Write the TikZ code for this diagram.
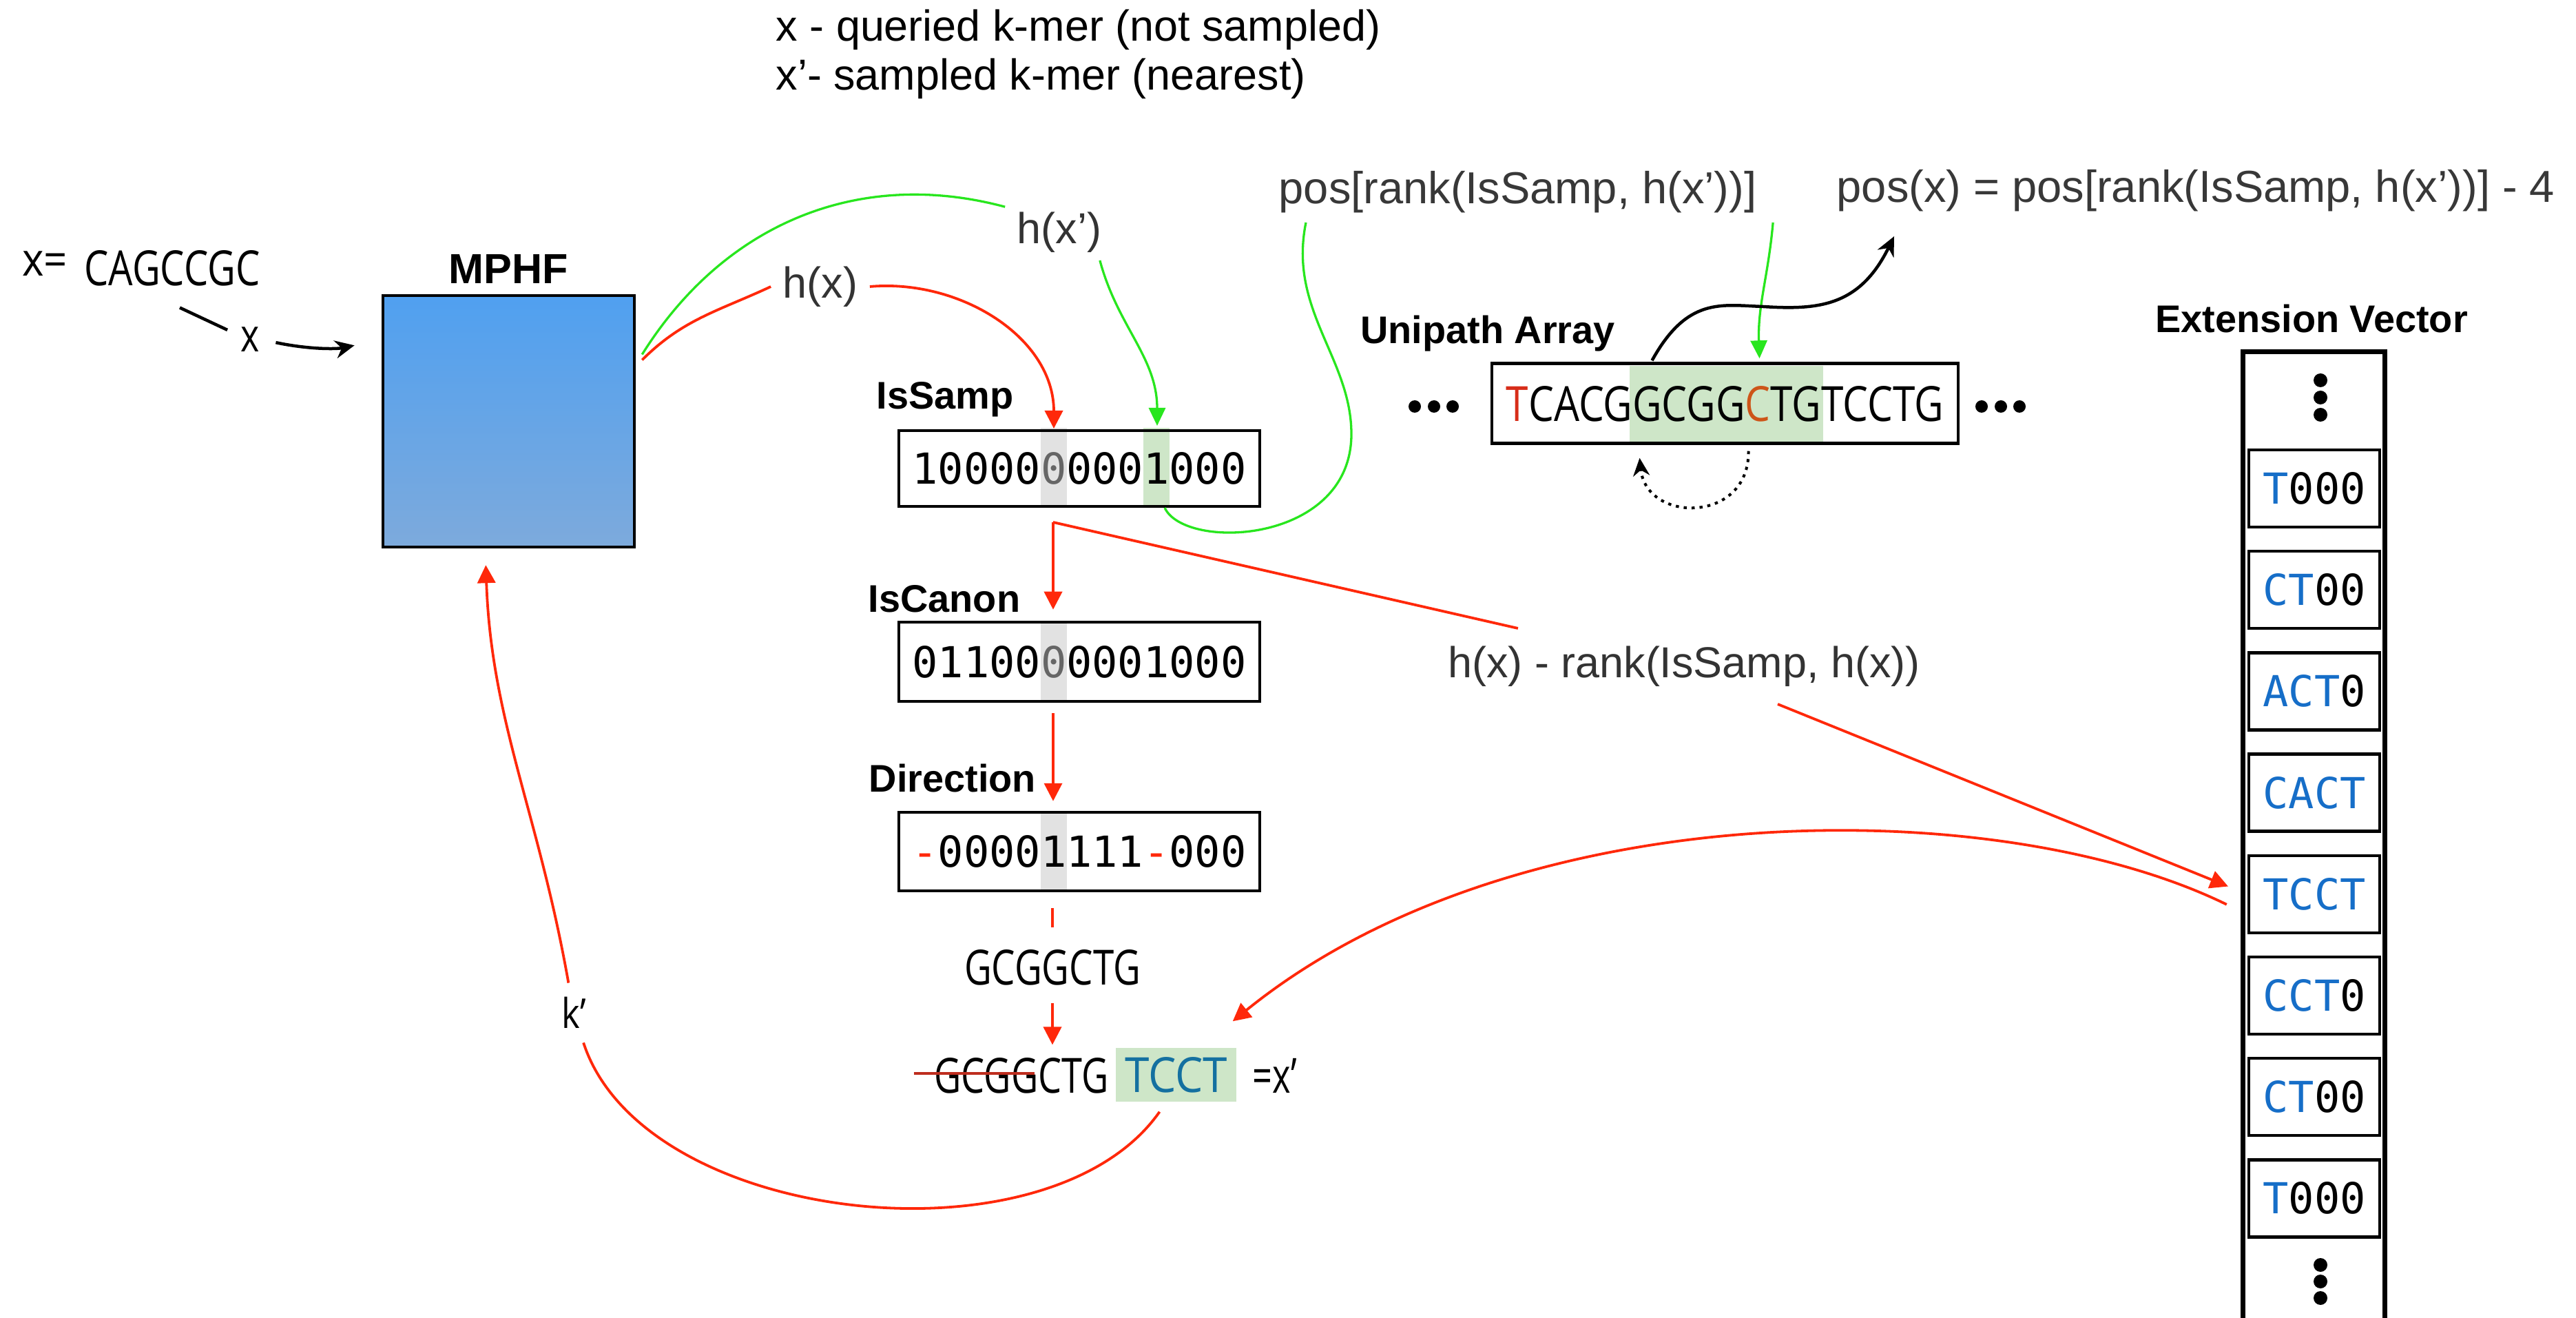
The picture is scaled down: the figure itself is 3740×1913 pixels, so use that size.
\documentclass[tikz,border=0pt]{standalone}
\usepackage{fontspec}
\usepackage{graphicx}
\usetikzlibrary{arrows.meta,calc}
\setmainfont{Liberation Sans}
\newfontfamily\hv{Liberation Sans}
\newfontfamily\os{Open Sans}
\newfontfamily\mono{DejaVu Sans Mono}
\definecolor{myred}{RGB}{255,40,10}
\definecolor{mygreen}{RGB}{40,230,30}
\definecolor{hlgreen}{RGB}{206,230,200}
\definecolor{hlgray}{RGB}{226,226,226}
\definecolor{evblue}{RGB}{22,110,200}
\definecolor{tealb}{RGB}{20,112,160}
\definecolor{txtred}{RGB}{215,45,25}
\definecolor{txtorange}{RGB}{205,85,25}
\definecolor{mphftop}{RGB}{80,160,240}
\definecolor{mphfbot}{RGB}{125,170,220}
\definecolor{strikec}{RGB}{190,45,30}
\newcommand\bitsfont{\mono\fontsize{17.63}{20}\selectfont}
\newcommand\gz{{\color{black!60}0}}
\newcommand\rd{{\color{myred}-}}
\newcommand\bl[1]{{\color{evblue}#1}}
\tikzset{
 lbl/.style={font=\hv\fontsize{17.9}{20}\selectfont, text=black!80, inner sep=0pt},
 plbl/.style={font=\hv\fontsize{18.5}{20}\selectfont, text=black!78, inner sep=0pt},
 blbl/.style={font=\hv\bfseries\fontsize{15.9}{18}\selectfont, inner sep=0pt},
 bitbox/.style={draw, line width=0.45mm, minimum width=52.4mm, inner sep=0pt, font=\bitsfont},
 evbox/.style={draw, line width=0.45mm, minimum width=19mm, minimum height=11.2mm, inner sep=0pt, font=\bitsfont},
 rline/.style={draw=myred, line width=0.38mm},
 rarr/.style={rline, -{Triangle[length=2.6mm,width=2.6mm]}},
 gline/.style={draw=mygreen, line width=0.33mm},
 garr/.style={gline, -{Triangle[length=2.6mm,width=2.4mm]}},
 bline/.style={draw=black, line width=0.45mm},
 barr/.style={bline, -{Stealth[length=2.8mm,width=2.6mm]}},
}
\begin{document}
\begin{tikzpicture}[x=0.1mm,y=-0.1mm]
\useasboundingbox (0,0) rectangle (3740,1913);
\fill[white] (0,0) rectangle (3740,1913);

% legend
\node[lbl, text=black, anchor=west] (leg1) at (1126,43) {x - queried k-mer (not sampled)};
\node[lbl, text=black, anchor=west] (leg2) at (1126,114) {x’- sampled k-mer (nearest)};

% input
\node[inner sep=0pt] (xeq) at (65,383) {\os\fontsize{19}{20}\selectfont\scalebox{0.9}[1]{x=}};
\node[inner sep=0pt] (seqx) at (250,389) {\resizebox{25.5mm}{5.1mm}{\os CAGCCGC}};
\node[inner sep=1pt] (xl) at (363,493) {\os\fontsize{19}{20}\selectfont\scalebox{0.78}[1]{x}};

% MPHF
\node[blbl, font=\hv\bfseries\fontsize{17.4}{19}\selectfont] (mphfL) at (738,390) {MPHF};
\node[draw, line width=0.45mm, top color=mphftop, bottom color=mphfbot, minimum width=36.5mm, minimum height=36.5mm, inner sep=0pt] (mphf) at (738.5,611.5) {};

\draw[bline] ([shift={(11,31)}]seqx.south) -- ([shift={(-15,8)}]xl.north west);
\draw[barr, shorten <=2mm, shorten >=4mm] (xl.east) to[bend right=12] (mphf.west |- xl.east);

% hash labels
\node[lbl, inner sep=1.7mm] (hx) at (1191,416) {h(x)};
\node[lbl, inner sep=1.7mm] (hxp) at (1538,337) {h(x’)};

% bit vectors
\node[blbl] (isL) at (1372,580) {IsSamp};
\node[blbl] (icL) at (1371,869) {IsCanon};
\node[blbl] (dirL) at (1383,1130) {Direction};

\fill[hlgray] (1511,621) rectangle (1549,737);
\fill[hlgreen] (1660,621) rectangle (1698,737);
\fill[hlgray] (1511,902) rectangle (1549,1019);
\fill[hlgray] (1511,1178) rectangle (1549,1295);

\node[bitbox, minimum height=11mm] (is) at (1567,680) {10000\gz0001000};
\node[bitbox, minimum height=11.5mm] (ic) at (1567,960.5) {01100\gz0001000};
\node[bitbox, minimum height=11.4mm] (dir) at (1567,1236) {\rd00001111\rd000};

\coordinate (c5top) at (1530,622);
\coordinate (c9top) at (1680,618);
\coordinate (c9bot) at (1691,737);
\coordinate (elb) at (1529,758);

% MPHF -> h(x), h(x')
\draw[gline] ([shift={(9,-97)}]mphf.east) to[out=58,in=165] (hxp.155);
\draw[rline] ([shift={(9,-89)}]mphf.east) to[out=45,in=205] (hx.west);
\draw[rarr] (hx.east) to[out=5,in=90] (c5top);
\draw[garr] ([shift={(-20,-6)}]hxp.south east) to[out=-75,in=90] (c9top);

% rank label
\node[lbl, inner sep=2.5mm] (hrl) at (2445,967) {h(x) - rank(IsSamp, h(x))};

% pos labels
\node[plbl, anchor=west] (posL) at (1856,279) {pos[rank(IsSamp, h(x’))]};
\node[plbl, anchor=west] (posxL) at (2666,277) {pos(x) = pos[rank(IsSamp, h(x’))] - 4};

% Unipath array
\node[blbl] (uniL) at (2160,484) {Unipath Array};
\fill[hlgreen] (2366,531) rectangle (2647,641);
\node[draw, line width=0.45mm, minimum width=67.7mm, minimum height=11.6mm, inner sep=0pt] (uni) at (2504.5,585.5) {};
\node[inner sep=0pt] (unitext) at (2504.5,586) {\resizebox{63.5mm}{5.1mm}{\os{\color{txtred}T}CACGGCGG{\color{txtorange}C}TGTCCTG}};
\foreach \xx in {2054,2082,2109,2877,2905,2932} \fill (\xx,590) circle (9);

\draw[gline] ([shift={(40,13)}]posL.south west) .. controls (1870,450) and (1962,520) .. (1962,630) .. controls (1962,790) and (1720,800) .. (c9bot);
\draw[garr] ([shift={(23,13)}]posL.south east) to[out=-95,in=92] ([shift={(50,-5)}]uni.north);
\draw[barr] ([shift={(-106,-2)}]uni.north) .. controls (2450,430) and (2500,443) .. (2560,445) .. controls (2640,450) and (2700,445) .. ([shift={(84,35)}]posxL.south west);
\draw[bline, dotted, line width=0.4mm, -{Stealth[length=2.6mm,width=2.4mm]}] ([shift={(34,9)}]uni.south) .. controls (2540,760) and (2390,760) .. ([shift={(-124,19)}]uni.south);

% Extension vector
\node[blbl] (evL) at (3356,463) {Extension Vector};
\draw[line width=0.7mm] (3256,1930) -- (3256,511) -- (3462,511) -- (3462,1930);
\foreach \yy in {552,577,602,1836,1860,1884} \fill (3369,\yy) circle (10);
\node[evbox] (e1) at (3360,709) {\bl{T}000};
\node[evbox] (e2) at (3360,856.2) {\bl{CT}00};
\node[evbox] (e3) at (3360,1003.4) {\bl{ACT}0};
\node[evbox] (e4) at (3360,1150.6) {\bl{CACT}};
\node[evbox] (e5) at (3360,1297.8) {\bl{TCCT}};
\node[evbox] (e6) at (3360,1445) {\bl{CCT}0};
\node[evbox] (e7) at (3360,1592.2) {\bl{CT}00};
\node[evbox] (e8) at (3360,1739.4) {\bl{T}000};

% red path IsSamp -> IsCanon -> Direction, and to extension vector
\draw[rline] (elb) -- (hrl);
\draw[rarr, shorten >=3mm] (hrl) -- (e5.west);
\draw[rarr, shorten >=1.6mm] (elb) -- (ic.north -| elb);
\draw[rarr, shorten <=1.5mm, shorten >=1.4mm] (ic.south -| elb) -- (dir.north -| elb);

% reconstruction
\node[inner sep=0pt] (gc1) at (1528,1404) {\resizebox{25.6mm}{5.1mm}{\os GCGGCTG}};
\draw[rline, shorten <=2.3mm, shorten >=3.1mm] (dir.south -| gc1) -- (gc1.north);
\node[inner sep=0pt] (gc2) at (1483,1561) {\resizebox{25.3mm}{5.1mm}{\os GCGGCTG}};
\node[fill=hlgreen, minimum width=17.5mm, minimum height=7.8mm, inner sep=0pt] (tc) at (1707.5,1560) {\resizebox{14.9mm}{5.1mm}{\os\color{tealb}TCCT}};
\node[inner sep=0pt] (eqx) at (1851,1561) {\os\fontsize{20}{22}\selectfont\scalebox{0.72}[1]{=x’}};
\draw[strikec, line width=0.4mm] ([shift={(-29,-3)}]gc2.west) -- ++(175,0);
\draw[rarr, shorten <=2.5mm, shorten >=1.8mm] (gc1.south) -- (gc1.south |- gc2.north);

\draw[rarr] ([shift={(-30,15)}]e5.west) .. controls (2900,1150) and (2200,1150) .. ([shift={(-6,-38)}]tc.north east);

\node[inner sep=2mm] (kp) at (833,1470) {\os\fontsize{17}{19}\selectfont\scalebox{0.85}[1]{k’}};
\draw[rline] ([shift={(-24,14)}]tc.south) to[out=-125,in=-72,looseness=0.85] (kp);
\draw[rarr, shorten >=2.4mm] (kp) to[out=100,in=-88] ([shift={(-34,0)}]mphf.south);
\end{tikzpicture}
\end{document}
